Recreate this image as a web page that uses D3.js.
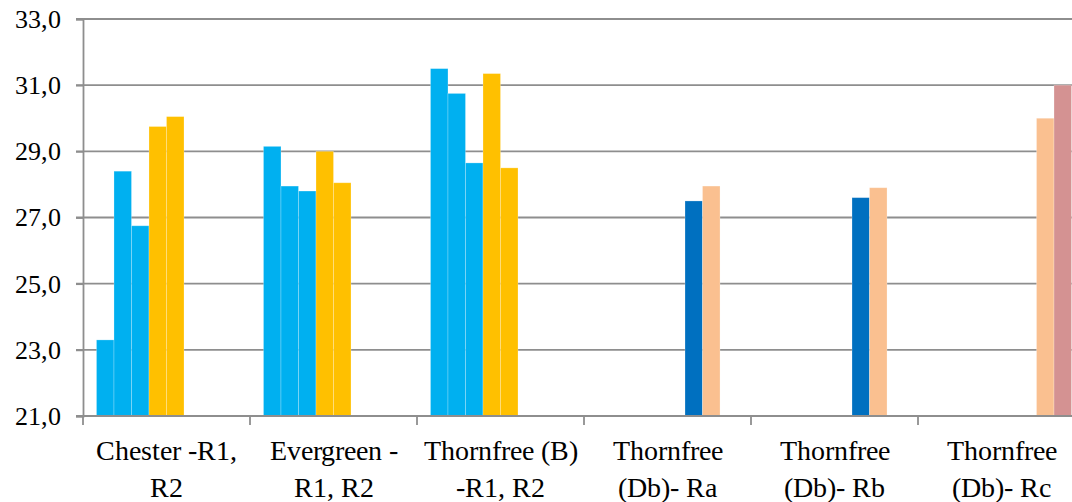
<!DOCTYPE html>
<html>
<head>
<meta charset="utf-8">
<script src="https://cdn.jsdelivr.net/npm/d3@7/dist/d3.min.js"></script>
<style>
  @font-face {
    font-family: "ChartSerif";
    src: local("Liberation Serif"), local("LiberationSerif"), local("Liberation Serif Regular"), local("LiberationSerif-Regular");
  }
  #chart text { font-family: "ChartSerif", "Liberation Serif", serif; }
</style>
</head>
<body style="margin:0">
<svg id="chart" width="1072" height="502"></svg>
<script>
// ---- data ----
const categories = [
  "Chester -R1,\nR2",
  "Evergreen -\nR1, R2",
  "Thornfree (B)\n-R1, R2",
  "Thornfree\n(Db)- Ra",
  "Thornfree\n(Db)- Rb",
  "Thornfree\n(Db)- Rc"
];
const seriesA = [23.3, 29.15, 31.5, null, null, null];
const seriesB = [28.4, 27.95, 30.75, null, null, null];
const seriesC = [26.75, 27.8, 28.65, null, null, null];
const seriesD = [29.75, 29.0, 31.35, null, null, null];
const seriesE = [30.05, 28.05, 28.5, null, null, null];
const seriesF = [null, null, null, 27.5, 27.6, null];
const seriesG = [null, null, null, 27.95, 27.9, 30.0];
const seriesH = [null, null, null, null, null, 31.0];
const seriesColors = ["#00B0F0", "#00B0F0", "#00B0F0", "#FFC000", "#FFC000", "#0070C0", "#FAC090", "#D49292"];
const yTicks = [21, 23, 25, 27, 29, 31, 33];

const allSeries = [seriesA, seriesB, seriesC, seriesD, seriesE, seriesF, seriesG, seriesH];

const svg = d3.select("#chart");
const mLeft = 83, mTop = 19, mBottom = 416;
const catStep = 167;
const mRight = mLeft + catStep * categories.length;

const x0 = d3.scaleBand().domain(d3.range(categories.length)).range([mLeft, mRight]).padding(0);
const x1 = d3.scaleBand().domain(d3.range(allSeries.length)).range([0, x0.bandwidth()])
  .paddingInner(0).paddingOuter(0.77);
const y = d3.scaleLinear().domain([21, 33]).range([mBottom, mTop]);

const locale = d3.formatLocale({decimal: ",", thousands: ".", grouping: [3], currency: ["", ""]});
const fmt = locale.format(".1f");

// gridlines
svg.append("g").selectAll("line").data(yTicks.filter(t => t !== 21)).join("line")
  .attr("x1", mLeft - 7).attr("x2", 1072)
  .attr("y1", d => y(d)).attr("y2", d => y(d))
  .attr("stroke", "#8E8E8E").attr("stroke-width", 1.8);

// bars
const flat = [];
allSeries.forEach((s, si) => s.forEach((v, ci) => { if (v != null) flat.push({si, ci, v}); }));
svg.append("g").selectAll("rect").data(flat).join("rect")
  .attr("x", d => x0(d.ci) + x1(d.si))
  .attr("width", x1.bandwidth())
  .attr("y", d => y(d.v))
  .attr("height", d => y(21) - y(d.v))
  .attr("fill", d => seriesColors[d.si])
  .attr("stroke", "rgba(255,255,255,0.3)")
  .attr("stroke-width", 0.8);

// y axis (lines from d3 axis, labels drawn below)
const yAxis = d3.axisLeft(y).tickValues(yTicks).tickFormat("").tickSize(7);
const gy = svg.append("g").attr("transform", `translate(${mLeft},0)`).call(yAxis);
gy.select(".domain").attr("stroke", "#8E8E8E").attr("stroke-width", 1.8);
gy.selectAll(".tick line").attr("stroke", "#8E8E8E").attr("stroke-width", 1.8);
gy.selectAll(".tick text").remove();

yTicks.forEach(t => {
  svg.append("text")
    .attr("x", mLeft - 22).attr("y", y(t)).attr("dy", "0.34em")
    .attr("text-anchor", "end")
    .attr("font-size", 26)
    .attr("fill", "#000")
    .text(fmt(t));
});

// x axis baseline + ticks at category boundaries
svg.append("line").attr("x1", mLeft - 7).attr("x2", 1072).attr("y1", mBottom).attr("y2", mBottom)
  .attr("stroke", "#8E8E8E").attr("stroke-width", 1.8);
const bounds = d3.range(categories.length + 1).map(i => mLeft + i * x0.step());
svg.append("g").selectAll("line").data(bounds).join("line")
  .attr("x1", d => d).attr("x2", d => d).attr("y1", mBottom).attr("y2", mBottom + 9)
  .attr("stroke", "#8E8E8E").attr("stroke-width", 1.8);

// category labels
categories.forEach((c, i) => {
  c.split("\n").forEach((ln, k) => {
    svg.append("text")
      .attr("x", x0(i) + x0.bandwidth() / 2)
      .attr("y", 460 + k * 37)
      .attr("text-anchor", "middle")
      .attr("font-size", 28)
      .attr("fill", "#000")
      .text(ln);
  });
});
</script>
</body>
</html>
